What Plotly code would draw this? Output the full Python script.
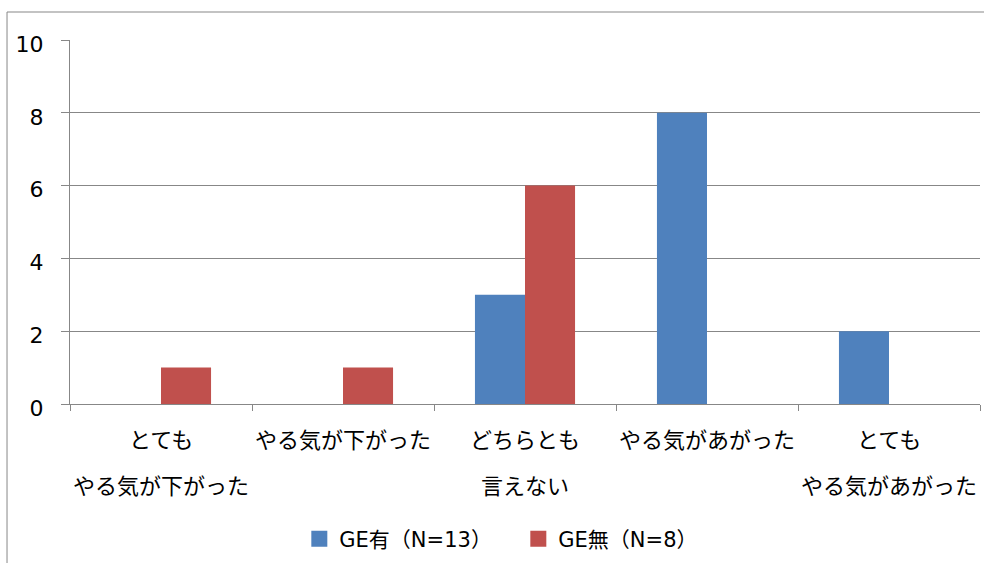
import plotly.graph_objects as go

# Survey: change in motivation, by group
categories = ["c1", "c2", "c3", "c4", "c5"]
label_line1 = ["とても", "やる気が下がった", "どちらとも", "やる気があがった", "とても"]
label_line2 = ["やる気が下がった", "", "言えない", "", "やる気があがった"]

series_names = ["GE有（N=13）", "GE無（N=8）"]
ge_yes = [0, 0, 3, 8, 2]
ge_no = [1, 1, 6, 0, 0]
colors = ["#4F81BD", "#C0504D"]

y_ticks = [0, 2, 4, 6, 8, 10]

FONT = "DejaVu Sans, Noto Sans CJK JP, sans-serif"
GRID = "#878787"

fig = go.Figure()
for name, vals, col in zip(series_names, [ge_yes, ge_no], colors):
    fig.add_trace(go.Bar(x=categories, y=vals, name=name, marker_color=col,
                         marker_line_width=0, showlegend=False))
    # legend swatch
    fig.add_trace(go.Scatter(x=[None], y=[None], mode="markers", name=name,
                             marker=dict(symbol="square", size=16, color=col)))

# two-line category labels below the axis
for cat, l1, l2 in zip(categories, label_line1, label_line2):
    for txt, yp in ((l1, -0.099), (l2, -0.228)):
        if txt:
            fig.add_annotation(x=cat, y=yp, xref="x", yref="paper", text=txt,
                               showarrow=False, yanchor="middle",
                               font=dict(family=FONT, size=22, color="#000000"))

# outer chart frame
fig.add_shape(type="rect", xref="paper", yref="paper",
              x0=-0.0692, x1=1.2, y0=-0.6, y1=1.0769,
              line=dict(color=GRID, width=1), layer="below")

fig.update_layout(
    width=984, height=563,
    margin=dict(l=70, r=4, t=40, b=159),
    paper_bgcolor="white", plot_bgcolor="white",
    barmode="group", bargap=0.45, bargroupgap=0,
    font=dict(family=FONT, size=21, color="#000000"),
    legend=dict(orientation="h", x=0.252, y=-0.371, xanchor="left", yanchor="middle",
                font=dict(family=FONT, size=21, color="#000000"),
                itemwidth=30, entrywidth=174, entrywidthmode="pixels",
                bgcolor="rgba(0,0,0,0)"),
)
fig.update_xaxes(showticklabels=False, showline=True, linecolor=GRID, linewidth=1,
                 ticks="outside", tickson="boundaries", ticklen=6, tickcolor=GRID,
                 showgrid=False, fixedrange=True)
fig.update_yaxes(range=[0, 10], tickvals=y_ticks, showline=True, linecolor=GRID, linewidth=1,
                 ticks="outside", ticklen=8, tickcolor=GRID, showgrid=True, gridcolor=GRID,
                 gridwidth=1, zeroline=False, ticklabelstandoff=13, ticklabelshift=4,
                 tickfont=dict(family=FONT, size=22, color="#000000"), fixedrange=True)

fig.write_html("out.html")
